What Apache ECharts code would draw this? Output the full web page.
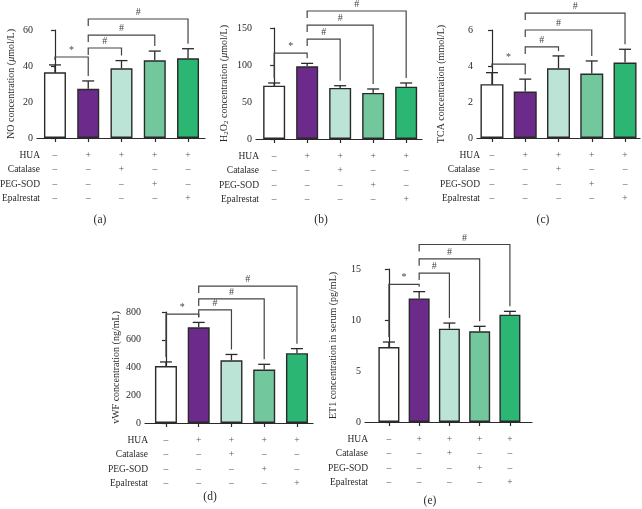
<!DOCTYPE html>
<html><head><meta charset="utf-8">
<script src="https://cdn.jsdelivr.net/npm/echarts@6/dist/echarts.min.js"></script>
<style>html,body{margin:0;padding:0;background:#fff}#c{width:642px;height:509px}</style>
</head><body><div id="c"></div>
<script>
// ---- data ----
const groups = ['Control', 'HUA', 'HUA+Catalase', 'HUA+PEG-SOD', 'HUA+Epalrestat'];
const rowNames = ['HUA', 'Catalase', 'PEG-SOD', 'Epalrestat'];
const rowSigns = [
  ['–', '+', '+', '+', '+'],
  ['–', '–', '+', '–', '–'],
  ['–', '–', '–', '+', '–'],
  ['–', '–', '–', '–', '+']
];
const panelLetters = ['(a)', '(b)', '(c)', '(d)', '(e)'];

const noMean = [36.5, 27.3, 38.7, 43.2, 44.3];
const noErr = [4.1, 4.4, 4.3, 5.1, 5.3];
const h2o2Mean = [72, 98.2, 69, 62.2, 70.7];
const h2o2Err = [3.7, 4, 3, 5.4, 5];
const tcaMean = [2.99, 2.58, 3.87, 3.58, 4.19];
const tcaErr = [0.64, 0.69, 0.69, 0.7, 0.74];
const vwfMean = [410, 690, 452, 385, 503];
const vwfErr = [30, 35, 42, 38, 33];
const et1Mean = [7.35, 12.12, 9.15, 8.89, 10.52];
const et1Err = [0.49, 0.66, 0.55, 0.49, 0.33];

// significance brackets: [fromGroup, toGroup, bracketLevel, mark]
const noSig = [[0, 1, 45, '*'], [1, 2, 50, '#'], [1, 3, 57.2, '#'], [1, 4, 66.1, '#']];
const h2o2Sig = [[0, 1, 116, '*'], [1, 2, 135, '#'], [1, 3, 154, '#'], [1, 4, 173, '#']];
const tcaSig = [[0, 1, 4.1, '*'], [1, 2, 5.06, '#'], [1, 3, 6.0, '#'], [1, 4, 6.94, '#']];
const vwfSig = [[0, 1, 785, '*'], [1, 2, 815, '#'], [1, 3, 894, '#'], [1, 4, 987, '#']];
const et1Sig = [[0, 1, 13.5, '*'], [1, 2, 14.6, '#'], [1, 3, 16.0, '#'], [1, 4, 17.4, '#']];

// y-axis scales: [min, max, interval]
const noScale = [0, 60, 20];
const h2o2Scale = [0, 150, 50];
const tcaScale = [0, 6, 2];
const vwfScale = [0, 800, 200];
const et1Scale = [0, 15, 5];

// ---- styles / layout ----
const FONT = 'Liberation Serif';
const INK = '#2a2a2a';
const barColors = ['#ffffff', '#6c2a8b', '#bce4d6', '#72c79c', '#2bb673'];

const panels = [
  { mean: noMean, err: noErr, sig: noSig, scale: noScale,
    name: 'NO concentration ({i|μ}mol/L)',
    grid: { left: 37, top: 30, width: 168, height: 108 }, xMin: -0.54, xMax: 4.51, barW: 22, nameGap: 20, letter: [100, 220] },
  { mean: h2o2Mean, err: h2o2Err, sig: h2o2Sig, scale: h2o2Scale,
    name: 'H{s|2}O{s|2} concentration ({i|μ}mol/L)',
    grid: { left: 256, top: 28, width: 166, height: 111 }, xMin: -0.55, xMax: 4.48, barW: 22, nameGap: 26, letter: [321, 220] },
  { mean: tcaMean, err: tcaErr, sig: tcaSig, scale: tcaScale,
    name: 'TCA concentration (mmol/L)',
    grid: { left: 477, top: 30, width: 163, height: 108 }, xMin: -0.45, xMax: 4.45, barW: 23, nameGap: 30, letter: [543, 220] },
  { mean: vwfMean, err: vwfErr, sig: vwfSig, scale: vwfScale,
    name: 'vWF concentration (ng/mL)',
    grid: { left: 145, top: 312, width: 168, height: 111 }, xMin: -0.64, xMax: 4.49, barW: 22, nameGap: 23, letter: [210, 497] },
  { mean: et1Mean, err: et1Err, sig: et1Sig, scale: et1Scale,
    name: 'ET1 concentration in serum (pg/mL)',
    grid: { left: 365, top: 269, width: 167, height: 153 }, xMin: -0.79, xMax: 4.73, barW: 21, nameGap: 26, letter: [430, 501] }
];

const lineStyle = { color: INK, width: 1.2 };
const grids = [], xAxes = [], yAxes = [], series = [], graphics = [];

function txt(x, y, text, size, fill, align, valign) {
  return {
    type: 'text', x, y,
    style: { text, fontSize: size, fontFamily: FONT, fill, align, verticalAlign: valign, textAlign: align, textVerticalAlign: valign }
  };
}

panels.forEach((p, g) => {
  grids.push(Object.assign({ containLabel: false, outerBoundsMode: 'none' }, p.grid));
  xAxes.push({
    gridIndex: g, type: 'value', min: p.xMin, max: p.xMax,
    axisLine: { show: true, onZero: false, lineStyle },
    axisTick: { show: true, customValues: [0, 1, 2, 3, 4], length: 4, lineStyle },
    axisLabel: { show: false }, splitLine: { show: false }
  });
  yAxes.push({
    gridIndex: g, type: 'value', min: p.scale[0], max: p.scale[1], interval: p.scale[2],
    axisLine: { show: true, lineStyle },
    axisTick: { show: true, length: 4, lineStyle },
    axisLabel: { fontSize: 10, color: INK, fontFamily: FONT, margin: 4 },
    splitLine: { show: false },
    name: p.name, nameLocation: 'middle', nameGap: p.nameGap, nameMoveOverlap: false,
    nameTextStyle: {
      fontSize: 10, color: INK, fontFamily: FONT, lineHeight: 12,
      rich: {
        i: { fontSize: 10, fontStyle: 'italic', fontFamily: FONT, color: INK, lineHeight: 12 },
        s: { fontSize: 7, fontFamily: FONT, color: INK, lineHeight: 7, verticalAlign: 'bottom' }
      }
    }
  });

  // bars
  series.push({
    type: 'bar', xAxisIndex: g, yAxisIndex: g, barWidth: p.barW, z: 2,
    itemStyle: { borderColor: INK, borderWidth: 1.4 },
    data: p.mean.map((v, i) => ({ value: [i, v], itemStyle: { color: barColors[i] } }))
  });

  // error bars (upper)
  series.push({
    type: 'custom', xAxisIndex: g, yAxisIndex: g, clip: false, z: 3,
    encode: { x: 0, y: 1 },
    data: p.mean.map((v, i) => [i, v, p.err[i]]),
    renderItem: (params, api) => {
      const i = api.value(0), m = api.value(1), e = api.value(2);
      const a = api.coord([i, m]), b = api.coord([i, m + e]);
      return {
        type: 'group', children: [
          { type: 'line', shape: { x1: a[0], y1: a[1], x2: b[0], y2: b[1] }, style: { stroke: INK, lineWidth: 1.3 } },
          { type: 'line', shape: { x1: b[0] - 6, y1: b[1], x2: b[0] + 6, y2: b[1] }, style: { stroke: INK, lineWidth: 1.3 } }
        ]
      };
    }
  });

  // significance brackets
  series.push({
    type: 'custom', xAxisIndex: g, yAxisIndex: g, clip: false, z: 4,
    encode: { x: 0, y: 1 },
    data: p.sig.map(s => [s[0], s[2]]),
    renderItem: (params, api) => {
      const s = p.sig[params.dataIndex];
      const from = s[0], to = s[1], lvl = s[2], mark = s[3];
      const pf = api.coord([from, lvl]), pt = api.coord([to, lvl]);
      const gap = 5;
      const topT = api.coord([to, p.mean[to] + p.err[to]])[1] - gap;
      const leftEnd = mark === '*'
        ? api.coord([from, p.mean[from] + p.err[from]])[1] - gap
        : pf[1] + 7;
      return {
        type: 'group', children: [
          { type: 'polyline', shape: { points: [[pf[0], leftEnd], [pf[0], pf[1]], [pt[0], pt[1]], [pt[0], topT]] },
            style: { stroke: '#444', lineWidth: 1.2, fill: null } },
          txt((pf[0] + pt[0]) / 2, pf[1] - 1.5, mark, 10, '#444', 'center', 'bottom')
        ]
      };
    }
  });

  // treatment table under the axis
  series.push({
    type: 'custom', xAxisIndex: g, yAxisIndex: g, clip: false, z: 4,
    encode: { x: 0, y: 1 },
    data: rowNames.map(() => [0, 0]),
    renderItem: (params, api) => {
      const k = params.dataIndex;
      const origin = api.coord([p.xMin, 0]);
      const y = origin[1] + 17 + 14.5 * k;
      const children = [txt(origin[0] + 3, y, rowNames[k], 9.5, INK, 'right', 'middle')];
      rowSigns[k].forEach((sg, c) => {
        children.push(txt(api.coord([c, 0])[0], y, sg, 9.5, '#555', 'center', 'middle'));
      });
      return { type: 'group', children };
    }
  });

  graphics.push(txt(p.letter[0], p.letter[1], panelLetters[g], 11.5, INK, 'center', 'middle'));
});

const chart = echarts.init(document.getElementById('c'), null, { renderer: 'canvas' });
chart.setOption({
  animation: false,
  backgroundColor: '#ffffff',
  grid: grids, xAxis: xAxes, yAxis: yAxes, series,
  graphic: graphics
});
</script>
</body></html>
